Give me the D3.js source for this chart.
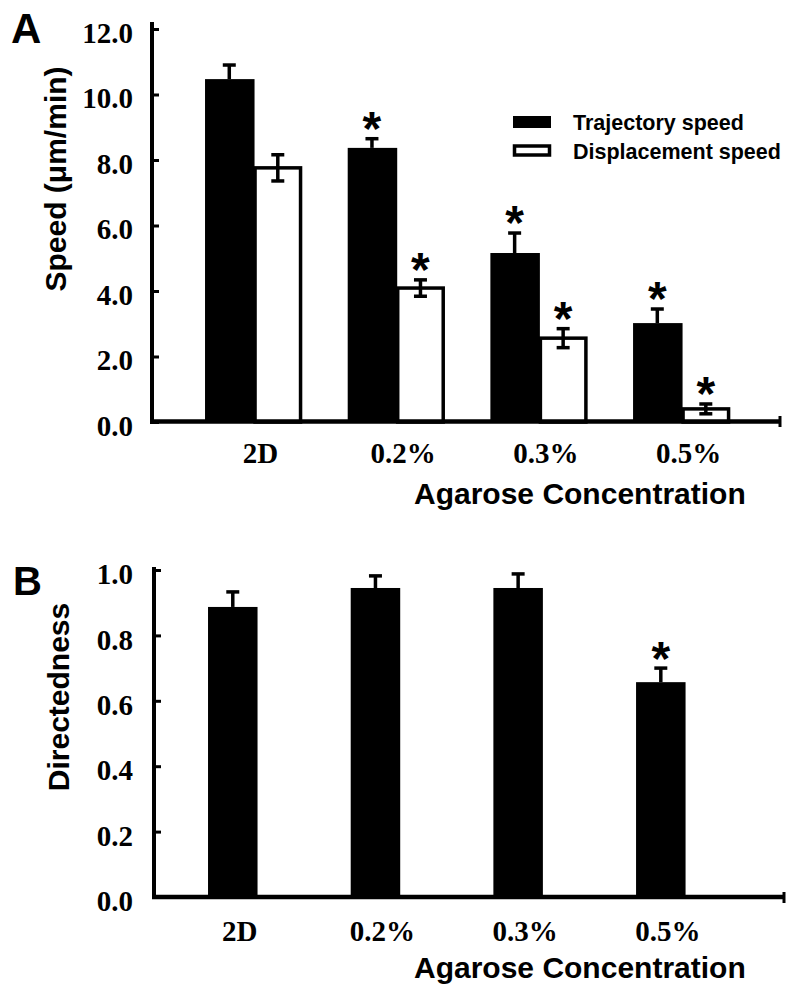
<!DOCTYPE html>
<html>
<head>
<meta charset="utf-8">
<script src="https://cdn.jsdelivr.net/npm/d3@7/dist/d3.min.js"></script>
<style>
  html, body { margin: 0; padding: 0; background: #fff; }
  svg { display: block; }
</style>
</head>
<body>
<svg id="chart" width="800" height="993"></svg>
<script>
// ---------------- DATA ----------------
const categories = ["2D", "0.2%", "0.3%", "0.5%"];
const seriesNames = ["Trajectory speed", "Displacement speed"];

const trajectorySpeed = [10.47, 8.37, 5.16, 3.02];
const trajectoryErr   = [0.43, 0.28, 0.61, 0.43];
const trajectorySig   = [false, true, true, true];

const displacementSpeed = [7.76, 4.09, 2.56, 0.40];
const displacementErr   = [0.40, 0.25, 0.29, 0.15];
const displacementSig   = [false, true, true, true];

const directedness    = [0.887, 0.945, 0.945, 0.657];
const directednessErr = [0.046, 0.037, 0.043, 0.043];
const directednessSig = [false, false, false, true];

const speedTicks = [0, 2, 4, 6, 8, 10, 12];
const dirTicks = [0, 0.2, 0.4, 0.6, 0.8, 1.0];

// ---------------- SETUP ----------------
const svg = d3.select("#chart");
const serif = "'Liberation Serif', 'Times New Roman', serif";
const sans = "'Liberation Sans', Arial, Helvetica, sans-serif";

function drawErr(g, x, yTop, yBot, both) {
  const cap = 13;
  g.append("line").attr("x1", x).attr("x2", x).attr("y1", yTop).attr("y2", yBot)
    .attr("stroke", "#000").attr("stroke-width", 3.5);
  g.append("line").attr("x1", x - cap / 2).attr("x2", x + cap / 2).attr("y1", yTop).attr("y2", yTop)
    .attr("stroke", "#000").attr("stroke-width", 3.5);
  if (both) {
    g.append("line").attr("x1", x - cap / 2).attr("x2", x + cap / 2).attr("y1", yBot).attr("y2", yBot)
      .attr("stroke", "#000").attr("stroke-width", 3.5);
  }
}
function drawStar(g, x, yCenter) {
  g.append("text").attr("x", x).attr("y", yCenter + 26)
    .attr("text-anchor", "middle")
    .attr("font-family", sans).attr("font-weight", "bold").attr("font-size", 48)
    .text("*");
}

// ================= PANEL A =================
const A = svg.append("g");
const yA = d3.scaleLinear().domain([0, 12]).range([422, 29]);
const xA = d3.scaleBand().domain(categories).range([182.2, 752.9]).paddingInner(0.32).paddingOuter(0.16);
const subA = d3.scaleBand().domain(seriesNames).range([0, xA.bandwidth()]);

categories.forEach((c, i) => {
  const x0 = xA(c);
  A.append("rect").attr("x", x0 + subA(seriesNames[0])).attr("width", subA.bandwidth() + 1)
    .attr("y", yA(trajectorySpeed[i])).attr("height", yA(0) - yA(trajectorySpeed[i]))
    .attr("fill", "#000");
  A.append("rect").attr("x", x0 + subA(seriesNames[1]) + 1.5).attr("width", subA.bandwidth() - 3)
    .attr("y", yA(displacementSpeed[i])).attr("height", yA(0) - yA(displacementSpeed[i]))
    .attr("fill", "#fff").attr("stroke", "#000").attr("stroke-width", 3.5);
});
categories.forEach((c, i) => {
  const x0 = xA(c);
  const cxT = x0 + subA(seriesNames[0]) + subA.bandwidth() / 2;
  const cxD = x0 + subA(seriesNames[1]) + subA.bandwidth() / 2;
  const tTop = yA(trajectorySpeed[i] + trajectoryErr[i]);
  drawErr(A, cxT, tTop, yA(trajectorySpeed[i]), false);
  const dTop = yA(displacementSpeed[i] + displacementErr[i]);
  drawErr(A, cxD, dTop, yA(displacementSpeed[i] - displacementErr[i]), true);
  if (trajectorySig[i]) drawStar(A, cxT, tTop - 20);
  if (displacementSig[i]) drawStar(A, cxD, dTop - 20);
});

const axA = A.append("g").attr("transform", "translate(152,0)")
  .call(d3.axisLeft(yA).tickValues(speedTicks).tickFormat(d3.format(".1f"))
    .tickSizeInner(-7).tickSizeOuter(0).tickPadding(19));
axA.select(".domain").remove();
axA.selectAll(".tick line").attr("stroke", "#000").attr("stroke-width", 3);
axA.selectAll(".tick text").attr("font-family", serif).attr("font-weight", "bold")
  .attr("font-size", 29).attr("fill", "#000").attr("dy", "0.45em");
A.append("line").attr("x1", 152).attr("x2", 152).attr("y1", 22).attr("y2", 424)
  .attr("stroke", "#000").attr("stroke-width", 4);
A.append("line").attr("x1", 150).attr("x2", 781).attr("y1", 421.5).attr("y2", 421.5)
  .attr("stroke", "#000").attr("stroke-width", 4.5);
A.append("line").attr("x1", 780).attr("x2", 780).attr("y1", 416).attr("y2", 427)
  .attr("stroke", "#000").attr("stroke-width", 3);
A.selectAll(".catA").data(categories).enter().append("text")
  .attr("x", d => xA(d) + xA.bandwidth() / 2 + 7).attr("y", 463)
  .attr("text-anchor", "middle").attr("font-family", serif).attr("font-weight", "bold")
  .attr("font-size", 29).text(d => d);
A.append("text").attr("x", 414).attr("y", 504).attr("font-family", sans).attr("font-weight", "bold")
  .attr("font-size", 30).text("Agarose Concentration");
A.append("text").attr("transform", "translate(66,179) rotate(-90)").attr("text-anchor", "middle")
  .attr("font-family", sans).attr("font-weight", "bold").attr("font-size", 30).text("Speed (μm/min)");
A.append("text").attr("x", 11).attr("y", 43).attr("font-family", sans).attr("font-weight", "bold")
  .attr("font-size", 42).text("A");

const leg = A.append("g");
seriesNames.forEach((s, i) => {
  const yy = 116 + i * 28.5;
  if (i === 0) {
    leg.append("rect").attr("x", 513).attr("y", yy).attr("width", 38).attr("height", 12).attr("fill", "#000");
  } else {
    leg.append("rect").attr("x", 514.5).attr("y", yy + 1.5).attr("width", 35).attr("height", 9)
      .attr("fill", "#fff").attr("stroke", "#000").attr("stroke-width", 3.5);
  }
  leg.append("text").attr("x", 573).attr("y", yy + 14).attr("font-family", sans).attr("font-weight", "bold")
    .attr("font-size", 21.5).text(s);
});

// ================= PANEL B =================
const B = svg.append("g");
const yB = d3.scaleLinear().domain([0, 1]).range([897, 570]);
const xB = d3.scaleBand().domain(categories).range([185.2, 755.9]).paddingInner(0.32).paddingOuter(0.16);
const bwB = xB.bandwidth() / 2 + 1;

categories.forEach((c, i) => {
  const x0 = xB(c);
  B.append("rect").attr("x", x0).attr("width", bwB)
    .attr("y", yB(directedness[i])).attr("height", yB(0) - yB(directedness[i]))
    .attr("fill", "#000");
  const top = yB(directedness[i] + directednessErr[i]);
  drawErr(B, x0 + bwB / 2, top, yB(directedness[i]), false);
  if (directednessSig[i]) drawStar(B, x0 + bwB / 2, top - 19);
});

const axB = B.append("g").attr("transform", "translate(154,0)")
  .call(d3.axisLeft(yB).tickValues(dirTicks).tickFormat(d3.format(".1f"))
    .tickSizeInner(-7).tickSizeOuter(0).tickPadding(21));
axB.select(".domain").remove();
axB.selectAll(".tick line").attr("stroke", "#000").attr("stroke-width", 3);
axB.selectAll(".tick text").attr("font-family", serif).attr("font-weight", "bold")
  .attr("font-size", 29).attr("fill", "#000").attr("dy", "0.47em");
B.append("line").attr("x1", 154).attr("x2", 154).attr("y1", 567).attr("y2", 899)
  .attr("stroke", "#000").attr("stroke-width", 4);
B.append("line").attr("x1", 152).attr("x2", 785).attr("y1", 897).attr("y2", 897)
  .attr("stroke", "#000").attr("stroke-width", 4.5);
B.append("line").attr("x1", 784).attr("x2", 784).attr("y1", 892).attr("y2", 903)
  .attr("stroke", "#000").attr("stroke-width", 3);

B.selectAll(".catB").data(categories).enter().append("text")
  .attr("x", d => xB(d) + bwB / 2 + 7).attr("y", 941)
  .attr("text-anchor", "middle").attr("font-family", serif).attr("font-weight", "bold")
  .attr("font-size", 29).text(d => d);
B.append("text").attr("x", 414).attr("y", 978).attr("font-family", sans).attr("font-weight", "bold")
  .attr("font-size", 30).text("Agarose Concentration");
B.append("text").attr("transform", "translate(69,697) rotate(-90)").attr("text-anchor", "middle")
  .attr("font-family", sans).attr("font-weight", "bold").attr("font-size", 30).text("Directedness");
B.append("text").attr("x", 13).attr("y", 595).attr("font-family", sans).attr("font-weight", "bold")
  .attr("font-size", 40).text("B");
</script>
</body>
</html>
